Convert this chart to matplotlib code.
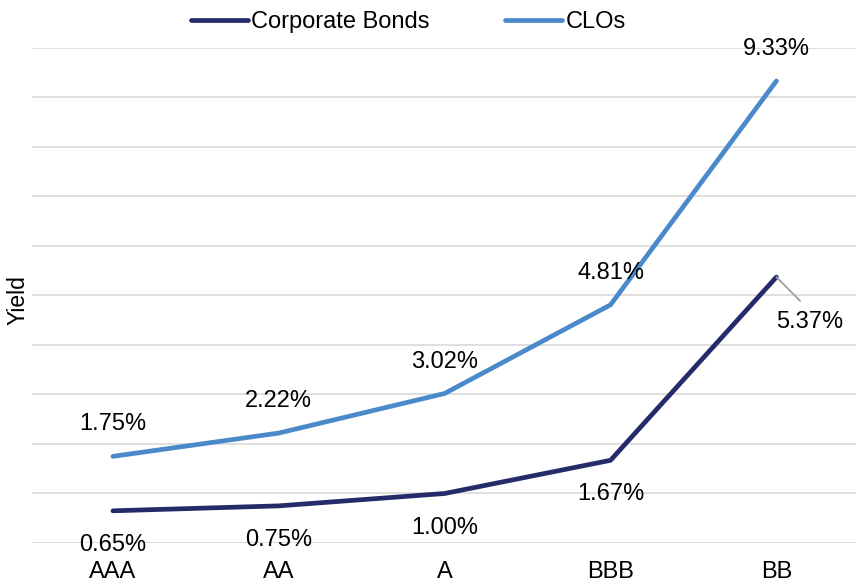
import numpy as np
import matplotlib
matplotlib.use("Agg")
import matplotlib.pyplot as plt

ratings = ["AAA", "AA", "A", "BBB", "BB"]
corporate = [0.65, 0.75, 1.00, 1.67, 5.37]
clos = [1.75, 2.22, 3.02, 4.81, 9.33]

NAVY = "#232B6B"
BLUE = "#4A8ACB"
FS = 17

plt.rcParams.update({"font.family": ["Liberation Sans", "DejaVu Sans"], "font.size": FS})

fig = plt.figure(figsize=(8.56, 5.83), dpi=100)
ax = fig.add_axes([0.037, 0.0686, 0.963, 0.8494])

xs = np.arange(len(ratings))
ax.plot(xs, corporate, color=NAVY, linewidth=3.4, solid_capstyle="round", label="Corporate Bonds", zorder=3)
ax.plot(xs, clos, color=BLUE, linewidth=3.4, solid_capstyle="round", label="CLOs", zorder=3)

# value labels: CLOs above the line, corporate below
for x, v in zip(xs, clos):
    ax.annotate(f"{v:.2f}%", (x, v), xytext=(0, 23), textcoords="offset points",
                ha="center", va="center", fontsize=FS)
for x, v in zip(xs[:-1], corporate[:-1]):
    ax.annotate(f"{v:.2f}%", (x, v), xytext=(0, -24.5), textcoords="offset points",
                ha="center", va="center", fontsize=FS)
ax.annotate(f"{corporate[-1]:.2f}%", (xs[-1], corporate[-1]), xytext=(24, -32),
            textcoords="offset points", ha="center", va="center", fontsize=FS,
            arrowprops=dict(arrowstyle="-", color="#A0A0A0", lw=1.3,
                            shrinkA=7, shrinkB=0, relpos=(0.5, 1.0)))

ax.set_xlim(-0.49, 4.48)
ax.set_ylim(0, 10)
ax.set_yticks(np.arange(0, 11, 1))
ax.set_yticklabels([])
ax.tick_params(axis="y", length=0)
ax.set_xticks(xs)
ax.set_xticklabels(ratings, fontsize=FS)
ax.tick_params(axis="x", length=0, pad=13)
ax.grid(axis="y", color="#D9D9D9", linewidth=1.2)
ax.set_axisbelow(True)
for s in ax.spines.values():
    s.set_visible(False)

fig.text(18 / 856, 1 - 300 / 583, "Yield", rotation=90, ha="center", va="center", fontsize=16.5)

fig.legend(loc="center", bbox_to_anchor=(0.477, 0.962), ncol=2, frameon=False,
           fontsize=FS, handlelength=2.4, handletextpad=0.15, columnspacing=3.2)

fig.savefig("out.png", dpi=100)
